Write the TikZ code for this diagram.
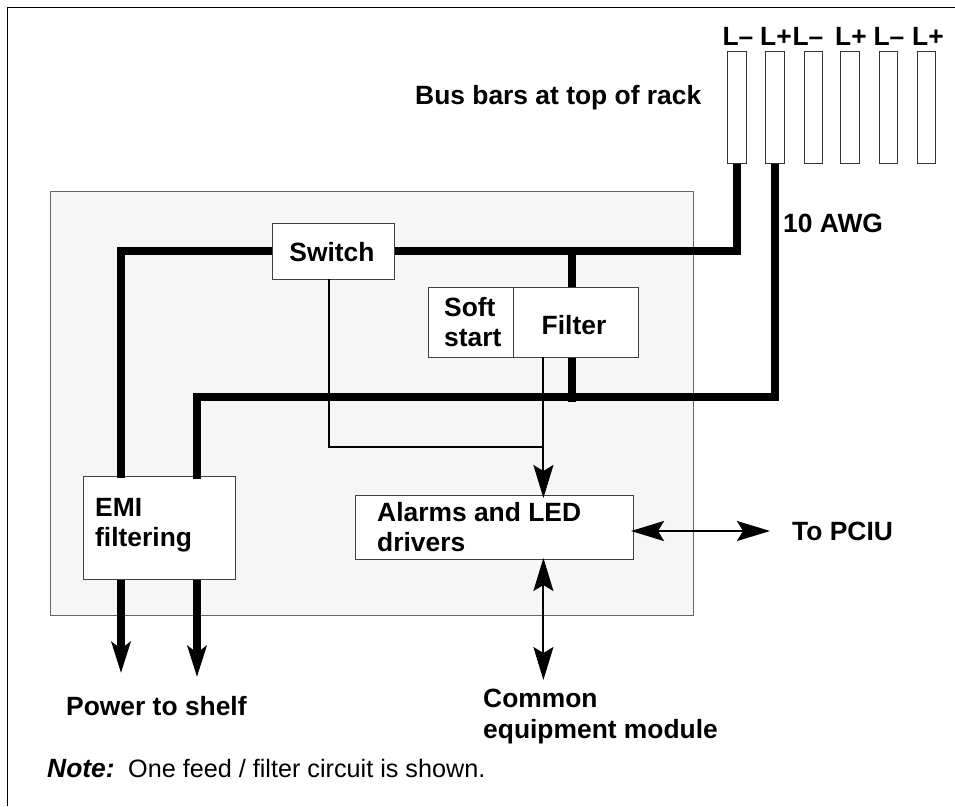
\documentclass[tikz,border=0pt]{standalone}
\usepackage{fontspec}
\setmainfont{Liberation Sans}
\usetikzlibrary{arrows.meta}
\tikzset{
  panel/.style={draw=black!60,line width=1pt,fill=black!3.5},
  blockbox/.style={draw=black!75,line width=1pt,fill=white},
  bar/.style={draw=black!80,line width=1pt,fill=white},
  feed/.style={line width=8pt,line cap=butt},
  sig/.style={line width=2pt},
  lbl/.style={font=\fontsize{26.4}{30}\selectfont\bfseries,inner sep=0pt,align=left,text=black},
  bigtip/.tip={Stealth[length=31pt,width=19pt,inset=7pt]},
  sigtip/.tip={Stealth[length=33pt,width=20pt,inset=6pt]},
}
\begin{document}
\begin{tikzpicture}[x=1pt,y=-1pt]
\useasboundingbox (0,0) rectangle (955,806);
\fill[white] (0,0) rectangle (955,806);
\draw[line width=1.3pt] (7.3,806) -- (7.3,7.3) -- (955,7.3);
\node[panel,minimum width=643pt,minimum height=424pt,inner sep=0pt,anchor=north west] (panel) at (50,191) {};
% bars
\foreach \n/\xx in {a/737/,b/775/,c/813.5/,d/850/,e/888.5/,f/926.5/}{
  \node[bar,minimum width=18.5pt,minimum height=112pt,inner sep=0pt,anchor=north] (bar\n) at (\xx,51) {};
}
\foreach \n/\xx/\t in {a/738/L–,b/776/L+,c/808/L–,d/851/L+,e/889/L–,f/928/L+}{
  \node[lbl,anchor=base] (lab\n) at (\xx,45) {\t};
}
% nodes
\node[blockbox,minimum width=122pt,minimum height=56pt,inner sep=0pt,anchor=north west] (sw) at (272,223) {};
\node[lbl,anchor=base] (swt) at (332,261) {Switch};
\node[blockbox,minimum width=85pt,minimum height=70pt,inner sep=0pt,anchor=north west] (soft) at (428,287) {};
\node[blockbox,minimum width=125pt,minimum height=70pt,inner sep=0pt,anchor=north west] (filt) at (513,287) {};
\node[lbl,anchor=north west] (softt) at (444,297) {Soft\\start};
\node[lbl,anchor=base] (filtt) at (574,334) {Filter};
\node[blockbox,minimum width=151.5pt,minimum height=103pt,inner sep=0pt,anchor=north west] (emi) at (83,476) {};
\node[lbl,anchor=north west] (emit) at (95,498) {EMI\\filtering};
\node[blockbox,minimum width=278pt,minimum height=64pt,inner sep=0pt,anchor=north west] (alarm) at (355,495) {};
\node[lbl,anchor=north west] (alarmt) at (377,502.5) {Alarms and LED\\drivers};
% coordinates
\coordinate (j1) at (737,251);
\coordinate (j2) at (775,397);
\coordinate (j5) at (121,251);
\coordinate (j6) at (197,397);
\coordinate (p1) at (121,673);
\coordinate (p2) at (197,677);
\coordinate (c1) at (329,447);
\coordinate (c2) at (543.4,447);
\coordinate (pciu) at (770,531);
\coordinate (cem) at (543.4,680);
% feeds
\draw[feed] (bara.south) -- (737,255) (741,251) -- (sw.east|-j1);
\draw[feed] (sw.west|-j5) -- (j5) -- (121,478);
\draw[feed] (572,251) -- (filt.north-|572,0);
\draw[feed] (filt.south-|572,0) -- (572,401.5);
\draw[feed] (barb.south) -- (j2) -- (j6) -- (197,479);
\draw[feed,-{bigtip}] (121,580) -- (p1);
\draw[feed,-{bigtip}] (197,580) -- (p2);
% signals
\draw[sig] (329,279) -- (c1) -- (c2);
\draw[sig,-{sigtip}] (543.4,357) -- (543.4,498);
\draw[sig,{sigtip}-{sigtip}] (631,531) -- (pciu);
\draw[sig,{sigtip}-{sigtip}] (543.4,558) -- (cem);
% labels
\node[lbl,anchor=base west] (bus) at (415,104) {Bus bars at top of rack};
\node[lbl,anchor=base west] (awg) at (783,232) {10 AWG};
\node[lbl,anchor=base west] (pc) at (792,540) {To PCIU};
\node[lbl,anchor=base west] (pow) at (66,715) {Power to shelf};
\node[lbl,anchor=north west,font=\fontsize{26.4}{31}\selectfont\bfseries] (com) at (483,689) {Common\\equipment module};
\node[lbl,anchor=base west] (note) at (47,777) {\textit{Note:}};
\node[lbl,anchor=base west,font=\fontsize{25.2}{30}\selectfont] (notet) at (128,777) {One feed / filter circuit is shown.};
\end{tikzpicture}
\end{document}
